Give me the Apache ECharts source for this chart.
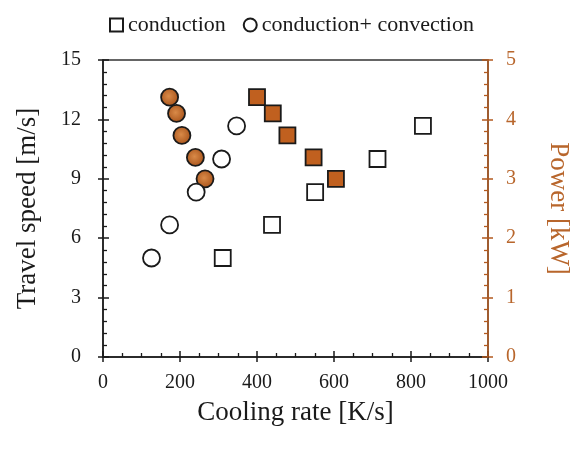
<!DOCTYPE html>
<html>
<head>
<meta charset="utf-8">
<script src="https://cdn.jsdelivr.net/npm/echarts@6/dist/echarts.min.js"></script>
<style>
html, body { margin: 0; padding: 0; background: #fff; }
#main { width: 576px; height: 451px; }
</style>
</head>
<body>
<div id="main"></div>
<script>
// conduction: cooling rate vs travel speed (open squares) and power (filled squares)
var condCooling = [311, 439, 551, 713, 831];
var condSpeed = [5, 6.67, 8.33, 10, 11.67];
var condPowerCooling = [400, 441, 479, 547, 605];
var condPower = [4.375, 4.1, 3.73, 3.36, 3.0];

// conduction + convection: open circles / filled circles
var convCooling = [126, 173, 242, 308, 347];
var convSpeed = [5, 6.67, 8.33, 10, 11.67];
var convPowerCooling = [173, 191, 205, 240, 265];
var convPower = [4.375, 4.1, 3.73, 3.36, 3.0];

var legendNames = ['conduction', 'conduction+ convection'];

function pairs(xs, ys) {
    var out = [];
    for (var i = 0; i < xs.length; i++) out.push([xs[i], ys[i]]);
    return out;
}

var font = 'Liberation Serif';
var ink = '#1a1a1a';
var brown = '#b35a1f';
var brownText = '#b8662c';

var myChart = echarts.init(document.getElementById('main'));
var option = {
    animation: false,
    textStyle: { fontFamily: font },
    legend: {
        data: legendNames,
        left: 104,
        top: 9,
        itemWidth: 13,
        itemHeight: 13,
        itemGap: 17,
        textStyle: { fontFamily: font, fontSize: 22, color: ink }
    },
    grid: {
        left: 103, right: 88, top: 60, bottom: 94,
        outerBoundsMode: 'none', containLabel: false,
        show: true, borderColor: '#333', borderWidth: 1.5, backgroundColor: 'transparent'
    },
    xAxis: [
        {
            type: 'value', min: 0, max: 1000, interval: 200,
            name: 'Cooling rate [K/s]', nameLocation: 'middle', nameGap: 42,
            nameTextStyle: { fontFamily: font, fontSize: 27, color: ink },
            axisLine: { onZero: false, lineStyle: { color: ink, width: 1.5 } },
            axisTick: { inside: true, length: 6, lineStyle: { color: ink, width: 1.5 } },
            minorTick: { show: true, splitNumber: 4, length: 4, lineStyle: { color: ink, width: 1.3 } },
            axisLabel: {
                fontFamily: font, fontSize: 20, color: ink, margin: 16,
                formatter: function (v) { return String(v); }
            },
            splitLine: { show: false }
        },
        {
            // outward half of the major ticks
            type: 'value', min: 0, max: 1000, interval: 200, position: 'bottom',
            axisLine: { show: false, onZero: false },
            axisTick: { inside: false, length: 5, lineStyle: { color: ink, width: 1.5 } },
            axisLabel: { show: false },
            splitLine: { show: false }
        }
    ],
    yAxis: [
        {
            type: 'value', min: 0, max: 15, interval: 3, position: 'left',
            name: 'Travel speed [m/s]', nameLocation: 'middle', nameGap: 62,
            nameTextStyle: { fontFamily: font, fontSize: 27, color: ink },
            axisLine: { show: true, onZero: false, lineStyle: { color: ink, width: 1.5 } },
            axisTick: { show: true, inside: true, length: 6, lineStyle: { color: ink, width: 1.5 } },
            minorTick: { show: true, splitNumber: 5, length: 4, lineStyle: { color: ink, width: 1.3 } },
            axisLabel: { fontFamily: font, fontSize: 20, color: ink, margin: 22 },
            splitLine: { show: false }
        },
        {
            type: 'value', min: 0, max: 5, interval: 1, position: 'right',
            name: 'Power [kW]', nameLocation: 'middle', nameGap: 57, nameRotate: -90,
            nameTextStyle: { fontFamily: font, fontSize: 27, color: brownText },
            axisLine: { show: true, onZero: false, lineStyle: { color: brown, width: 1.5 } },
            axisTick: { show: true, inside: true, length: 6, lineStyle: { color: brown, width: 1.5 } },
            minorTick: { show: true, splitNumber: 5, length: 4, lineStyle: { color: brown, width: 1.3 } },
            axisLabel: { fontFamily: font, fontSize: 20, color: brownText, margin: 18 },
            splitLine: { show: false },
            z: 5
        },
        {
            type: 'value', min: 0, max: 15, interval: 3, position: 'left',
            axisLine: { show: false, onZero: false },
            axisTick: { show: true, inside: false, length: 5, lineStyle: { color: ink, width: 1.5 } },
            axisLabel: { show: false },
            splitLine: { show: false }
        },
        {
            type: 'value', min: 0, max: 5, interval: 1, position: 'right',
            axisLine: { show: false, onZero: false },
            axisTick: { show: true, inside: false, length: 5, lineStyle: { color: brown, width: 1.5 } },
            axisLabel: { show: false },
            splitLine: { show: false }
        }
    ],
    series: [
        {
            name: 'conduction power', type: 'scatter', yAxisIndex: 1,
            symbol: 'rect', symbolSize: 16,
            itemStyle: { color: '#c0601f', borderColor: ink, borderWidth: 1.8, opacity: 1 },
            data: pairs(condPowerCooling, condPower)
        },
        {
            name: 'conduction+ convection power', type: 'scatter', yAxisIndex: 1,
            symbol: 'circle', symbolSize: 17,
            itemStyle: {
                color: {
                    type: 'radial', x: 0.45, y: 0.45, r: 0.6,
                    colorStops: [{ offset: 0, color: '#d98a48' }, { offset: 1, color: '#a44f17' }]
                },
                borderColor: ink, borderWidth: 1.8, opacity: 1
            },
            data: pairs(convPowerCooling, convPower)
        },
        {
            name: legendNames[0], type: 'scatter', yAxisIndex: 0,
            symbol: 'rect', symbolSize: 16,
            itemStyle: { color: '#fff', borderColor: ink, borderWidth: 1.8, opacity: 1 },
            data: pairs(condCooling, condSpeed)
        },
        {
            name: legendNames[1], type: 'scatter', yAxisIndex: 0,
            symbol: 'circle', symbolSize: 17,
            itemStyle: { color: '#fff', borderColor: ink, borderWidth: 1.8, opacity: 1 },
            data: pairs(convCooling, convSpeed)
        }
    ]
};
myChart.setOption(option);
</script>
</body>
</html>
